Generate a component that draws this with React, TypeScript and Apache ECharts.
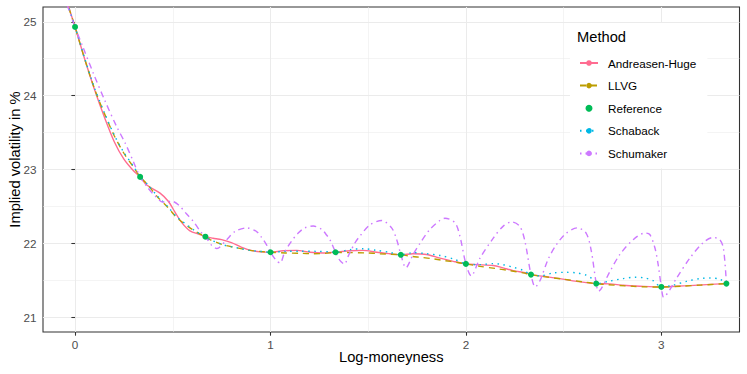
import React, { useEffect, useRef } from "react";
import * as echarts from "echarts";

// ---- data ----
const xTicks = [0, 1, 2, 3];
const xMinorTicks = [0.5, 1.5, 2.5];
const yTicks = [21, 22, 23, 24, 25];
const yMinorTicks = [21.5, 22.5, 23.5, 24.5];

const referenceX = [0, 0.333, 0.667, 1, 1.333, 1.667, 2, 2.333, 2.667, 3, 3.333];
const referenceY = [24.93, 22.9, 22.09, 21.88, 21.88, 21.845, 21.722, 21.577, 21.455, 21.41, 21.455];

const andreasenHuge: [number, number][] = [
  [-0.05, 25.34], [0, 24.93], [0.05, 24.49], [0.1, 24.08], [0.15, 23.71], [0.2, 23.38], [0.25, 23.14],
  [0.3, 22.98], [0.333, 22.9], [0.367, 22.79], [0.435, 22.68], [0.477, 22.57], [0.512, 22.42],
  [0.546, 22.28], [0.588, 22.17], [0.639, 22.12], [0.667, 22.09], [0.706, 22.07], [0.75, 22.05],
  [0.8, 22.01], [0.85, 21.95], [0.9, 21.905], [0.95, 21.885], [1.0, 21.88], [1.064, 21.9],
  [1.134, 21.905], [1.202, 21.88], [1.269, 21.87], [1.333, 21.88], [1.407, 21.9], [1.473, 21.905],
  [1.543, 21.88], [1.611, 21.86], [1.667, 21.845], [1.729, 21.86], [1.799, 21.85], [1.867, 21.8],
  [1.935, 21.757], [2.0, 21.722], [2.055, 21.712], [2.14, 21.7], [2.19, 21.668], [2.242, 21.631],
  [2.31, 21.6], [2.333, 21.577], [2.395, 21.554], [2.481, 21.523], [2.566, 21.486], [2.667, 21.455],
  [2.737, 21.451], [2.805, 21.432], [2.89, 21.42], [3.0, 21.41], [3.078, 21.42], [3.146, 21.428],
  [3.231, 21.442], [3.333, 21.455],
];

const llvg: [number, number][] = [
  [-0.05, 25.33], [0, 24.93], [0.05, 24.49], [0.1, 24.09], [0.15, 23.76], [0.2, 23.46], [0.25, 23.22],
  [0.3, 23.03], [0.333, 22.9], [0.367, 22.81], [0.418, 22.64], [0.477, 22.48], [0.52, 22.35],
  [0.588, 22.21], [0.625, 22.15], [0.667, 22.09], [0.691, 22.05], [0.759, 21.98], [0.827, 21.94],
  [0.895, 21.905], [0.95, 21.89], [1.0, 21.88], [1.075, 21.87], [1.151, 21.865], [1.219, 21.86],
  [1.28, 21.865], [1.333, 21.878], [1.4, 21.875], [1.492, 21.87], [1.56, 21.86], [1.62, 21.853],
  [1.667, 21.845], [1.722, 21.824], [1.773, 21.81], [1.833, 21.79], [1.893, 21.766], [1.95, 21.745],
  [2.0, 21.722], [2.072, 21.689], [2.157, 21.658], [2.225, 21.631], [2.293, 21.6], [2.333, 21.577],
  [2.4, 21.55], [2.5, 21.515], [2.6, 21.478], [2.667, 21.455], [2.73, 21.44], [2.788, 21.43],
  [2.856, 21.419], [2.924, 21.411], [3.0, 21.41], [3.1, 21.42], [3.2, 21.435], [3.333, 21.455],
];

const schaback: [number, number][] = [
  [-0.05, 25.33], [0, 24.93], [0.05, 24.5], [0.1, 24.1], [0.15, 23.77], [0.2, 23.47], [0.25, 23.23],
  [0.3, 23.04], [0.333, 22.9], [0.367, 22.81], [0.418, 22.65], [0.477, 22.49], [0.52, 22.36],
  [0.588, 22.22], [0.625, 22.15], [0.667, 22.09], [0.691, 22.05], [0.759, 21.98], [0.827, 21.94],
  [0.895, 21.905], [0.963, 21.888], [1.0, 21.88], [1.083, 21.892], [1.151, 21.893], [1.236, 21.892],
  [1.304, 21.886], [1.333, 21.878], [1.407, 21.915], [1.475, 21.928], [1.543, 21.905], [1.611, 21.878],
  [1.667, 21.845], [1.73, 21.875], [1.8, 21.86], [1.87, 21.835], [1.94, 21.785], [2.0, 21.722],
  [2.072, 21.712], [2.14, 21.726], [2.19, 21.712], [2.242, 21.676], [2.293, 21.635], [2.333, 21.577],
  [2.379, 21.56], [2.447, 21.6], [2.515, 21.608], [2.566, 21.6], [2.617, 21.568], [2.651, 21.51],
  [2.667, 21.455], [2.737, 21.49], [2.805, 21.523], [2.864, 21.541], [2.916, 21.532], [2.958, 21.496],
  [3.0, 21.41], [3.06, 21.435], [3.129, 21.486], [3.197, 21.523], [3.248, 21.532], [3.299, 21.515],
  [3.333, 21.455],
];

const schumaker: [number, number][] = [
  [-0.05, 25.3], [0, 24.93], [0.043, 24.64], [0.094, 24.3], [0.153, 23.93], [0.213, 23.58],
  [0.256, 23.36], [0.298, 23.11], [0.333, 22.9], [0.37, 22.76], [0.41, 22.64], [0.45, 22.56],
  [0.495, 22.57], [0.53, 22.52], [0.57, 22.4], [0.604, 22.3], [0.648, 22.14], [0.667, 22.09],
  [0.7, 21.97], [0.726, 21.93], [0.776, 22.05], [0.818, 22.16], [0.878, 22.21], [0.929, 22.16],
  [0.955, 22.08], [0.98, 21.98], [1.0, 21.88], [1.032, 21.76], [1.049, 21.735], [1.074, 21.89],
  [1.108, 22.03], [1.142, 22.14], [1.176, 22.21], [1.219, 22.235], [1.262, 22.19], [1.288, 22.11],
  [1.304, 22.05], [1.333, 21.88], [1.355, 21.77], [1.378, 21.72], [1.4, 21.84], [1.432, 22.005],
  [1.458, 22.1], [1.509, 22.25], [1.569, 22.31], [1.62, 22.21], [1.646, 22.05], [1.667, 21.85],
  [1.693, 21.67], [1.73, 21.85], [1.765, 22.0], [1.816, 22.19], [1.867, 22.31], [1.893, 22.34],
  [1.944, 22.28], [1.969, 22.1], [2.0, 21.722], [2.027, 21.56], [2.072, 21.8], [2.14, 22.07],
  [2.19, 22.23], [2.234, 22.29], [2.276, 22.23], [2.302, 22.03], [2.333, 21.577], [2.355, 21.41],
  [2.38, 21.5], [2.42, 21.78], [2.46, 21.97], [2.51, 22.13], [2.57, 22.21], [2.615, 22.14],
  [2.64, 21.92], [2.667, 21.455], [2.678, 21.35], [2.737, 21.62], [2.788, 21.85], [2.856, 22.05],
  [2.916, 22.14], [2.941, 22.12], [2.967, 21.94], [2.984, 21.71], [3.0, 21.41], [3.012, 21.27],
  [3.043, 21.37], [3.078, 21.53], [3.146, 21.8], [3.214, 22.01], [3.265, 22.08], [3.299, 22.05],
  [3.318, 21.93], [3.333, 21.455],
];

const methodNames = ["Andreasen-Huge", "LLVG", "Reference", "Schaback", "Schumaker"];
const colors = {
  ah: "#FF6C91",
  llvg: "#BC9D00",
  ref: "#00BC57",
  schaback: "#00B8E5",
  schumaker: "#CD79FF",
};

const X_MIN = -0.164;
const X_MAX = 3.4;
const Y_MIN = 20.8;
const Y_MAX = 25.2;

const FONT = "'Liberation Sans', Arial, Helvetica, sans-serif";

export default function App() {
  const ref = useRef<HTMLDivElement>(null);

  useEffect(() => {
    document.body.style.margin = "0";
    if (!ref.current) return;
    const chart = echarts.init(ref.current, undefined, { renderer: "svg" });

    const majorLine = { color: "#EBEBEB", width: 1.07 };
    const minorLine = { color: "#EBEBEB", width: 0.55 };

    const lineSeries = (name: string, data: [number, number][], color: string, dash: any) => ({
      name,
      type: "line",
      data,
      smooth: 0.3,
      symbol: "circle",
      showSymbol: false,
      symbolSize: 6,
      clip: true,
      itemStyle: { color },
      lineStyle: { color, width: 1.4, type: dash },
      emphasis: { disabled: true },
      z: 2,
    });

    const option: any = {
      animation: false,
      backgroundColor: "#ffffff",
      textStyle: { fontFamily: FONT },
      grid: {
        left: 43,
        right: 7.5,
        top: 7,
        bottom: 42,
        show: true,
        borderColor: "#333333",
        borderWidth: 1.07,
        backgroundColor: "transparent",
        containLabel: false,
        outerBoundsMode: "none",
      },
      xAxis: [
        {
          type: "value",
          min: X_MIN,
          max: X_MAX,
          position: "bottom",
          name: "Log-moneyness",
          nameLocation: "middle",
          nameGap: 17,
          nameMoveOverlap: false,
          nameTextStyle: { fontSize: 14.7, color: "#000000", fontFamily: FONT },
          axisLine: { show: false },
          axisTick: { show: true, length: 3.7, lineStyle: { color: "#333333", width: 1.07 }, customValues: xTicks },
          axisLabel: { customValues: xTicks, margin: 6.6, fontSize: 11.7, color: "#4D4D4D", fontFamily: FONT },
          splitLine: { show: true, lineStyle: majorLine },
        },
        {
          type: "value",
          min: X_MIN,
          max: X_MAX,
          position: "top",
          axisLine: { show: false },
          axisTick: { show: false, customValues: xMinorTicks },
          axisLabel: { show: false, customValues: xMinorTicks },
          splitLine: { show: true, lineStyle: minorLine },
        },
      ],
      yAxis: [
        {
          type: "value",
          min: Y_MIN,
          max: Y_MAX,
          position: "left",
          name: "Implied volatility in %",
          nameLocation: "middle",
          nameGap: 20.5,
          nameMoveOverlap: false,
          nameTextStyle: { fontSize: 14.7, color: "#000000", fontFamily: FONT, padding: [0, 0, 0, 20] },
          axisLine: { show: false },
          axisTick: { show: true, length: 3.7, lineStyle: { color: "#333333", width: 1.07 }, customValues: yTicks },
          axisLabel: { customValues: yTicks, margin: 6.6, fontSize: 11.7, color: "#4D4D4D", fontFamily: FONT },
          splitLine: { show: true, lineStyle: majorLine },
        },
        {
          type: "value",
          min: Y_MIN,
          max: Y_MAX,
          position: "right",
          axisLine: { show: false },
          axisTick: { show: false, customValues: yMinorTicks },
          axisLabel: { show: false, customValues: yMinorTicks },
          splitLine: { show: true, lineStyle: minorLine },
        },
      ],
      legend: {
        data: methodNames,
        orient: "vertical",
        left: 570,
        top: 23,
        padding: [34, 11, 9, 9],
        itemWidth: 18,
        itemHeight: 7,
        itemGap: 10.6,
        backgroundColor: "#ffffff",
        selectedMode: false,
        textStyle: { fontSize: 11.7, color: "#000000", fontFamily: FONT, padding: [0, 0, 0, 5] },
      },
      graphic: [
        {
          type: "text",
          z: 100,
          style: {
            text: "Method",
            x: 577,
            y: 36.7,
            verticalAlign: "middle",
            fontSize: 14.7,
            fill: "#000000",
            fontFamily: FONT,
          },
        },
      ],
      series: [
        lineSeries(methodNames[0], andreasenHuge, colors.ah, "solid"),
        lineSeries(methodNames[1], llvg, colors.llvg, [6, 5]),
        lineSeries(methodNames[3], schaback, colors.schaback, [1.5, 4.5]),
        lineSeries(methodNames[4], schumaker, colors.schumaker, [1.5, 4, 6, 4]),
        {
          name: methodNames[2],
          type: "scatter",
          data: referenceX.map((x, i) => [x, referenceY[i]]),
          symbol: "circle",
          symbolSize: 6,
          itemStyle: { color: colors.ref, opacity: 1 },
          emphasis: { disabled: true },
          z: 5,
        },
      ],
    };

    chart.setOption(option);
    return () => chart.dispose();
  }, []);

  return (
    <div
      ref={ref}
      style={{ position: "absolute", left: 0, top: 0, width: 747, height: 374 }}
    />
  );
}
